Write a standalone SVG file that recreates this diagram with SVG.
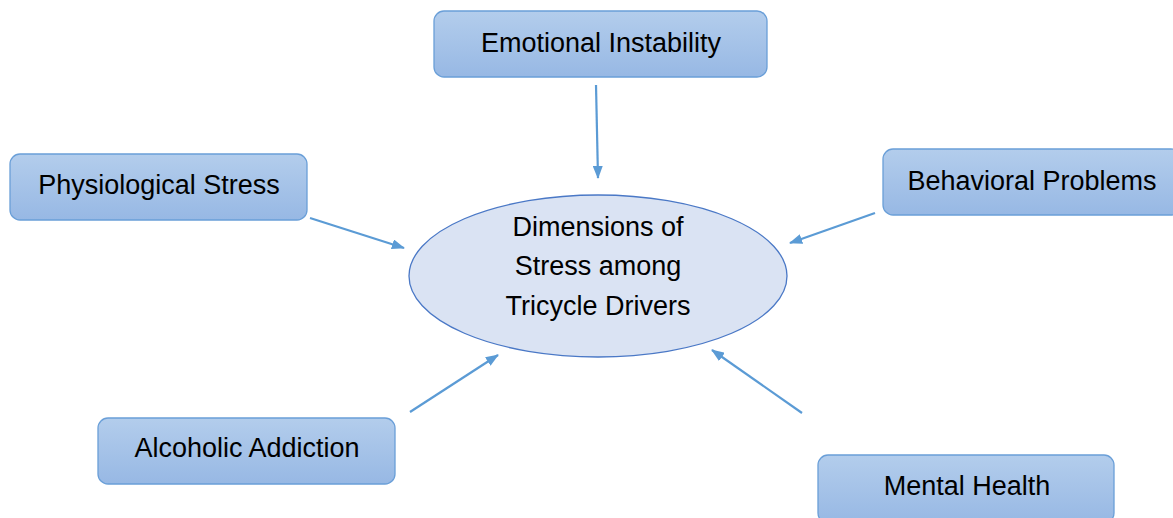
<svg xmlns="http://www.w3.org/2000/svg" width="1173" height="518" viewBox="0 0 1173 518">
<style>
.box{fill:url(#g);stroke:#6a9fd8;stroke-width:1.3}
.t{font-family:"Liberation Sans",Arial,sans-serif;font-size:27px;fill:#000;text-anchor:middle}
.c{stroke:#5b9bd5;stroke-width:2.2;fill:none;marker-end:url(#a)}
</style>
<defs>
<linearGradient id="g" x1="0" y1="0" x2="0" y2="1">
<stop offset="0" stop-color="#b3cdec"/>
<stop offset="1" stop-color="#97b8e4"/>
</linearGradient>
<marker id="a" viewBox="0 0 13 10" refX="12" refY="5" markerWidth="6" markerHeight="4.6" orient="auto" markerUnits="strokeWidth">
<path d="M0,0 L13,5 L0,10 Z" fill="#5b9bd5"/>
</marker>
</defs>
<rect width="1173" height="518" fill="#fff"/>
<g id="center">
<ellipse cx="598" cy="276" rx="189" ry="81" fill="#dae3f3" stroke="#4a78c6" stroke-width="1.3"/>
<text class="t" x="598" y="236">Dimensions of</text>
<text class="t" x="598" y="275">Stress among</text>
<text class="t" x="598" y="315">Tricycle Drivers</text>
</g>
<g id="emotional">
<rect class="box" x="434" y="11" width="333" height="66" rx="10"/>
<text class="t" x="601" y="52">Emotional Instability</text>
</g>
<g id="physiological">
<rect class="box" x="10" y="154" width="297" height="66" rx="10"/>
<text class="t" x="159" y="194">Physiological Stress</text>
</g>
<g id="behavioral">
<rect class="box" x="883" y="149" width="298" height="66" rx="10"/>
<text class="t" x="1032" y="190">Behavioral Problems</text>
</g>
<g id="alcoholic">
<rect class="box" x="98" y="418" width="297" height="66" rx="10"/>
<text class="t" x="247" y="457">Alcoholic Addiction</text>
</g>
<g id="mental">
<rect class="box" x="818" y="455" width="296" height="68" rx="10"/>
<text class="t" x="967" y="495">Mental Health</text>
</g>
<g id="connectors">
<line class="c" x1="596" y1="85" x2="598" y2="178"/>
<line class="c" x1="310" y1="218" x2="404" y2="248"/>
<line class="c" x1="875" y1="213" x2="790" y2="243"/>
<line class="c" x1="410" y1="412" x2="498" y2="355"/>
<line class="c" x1="802" y1="413" x2="712" y2="350"/>
</g>
</svg>
